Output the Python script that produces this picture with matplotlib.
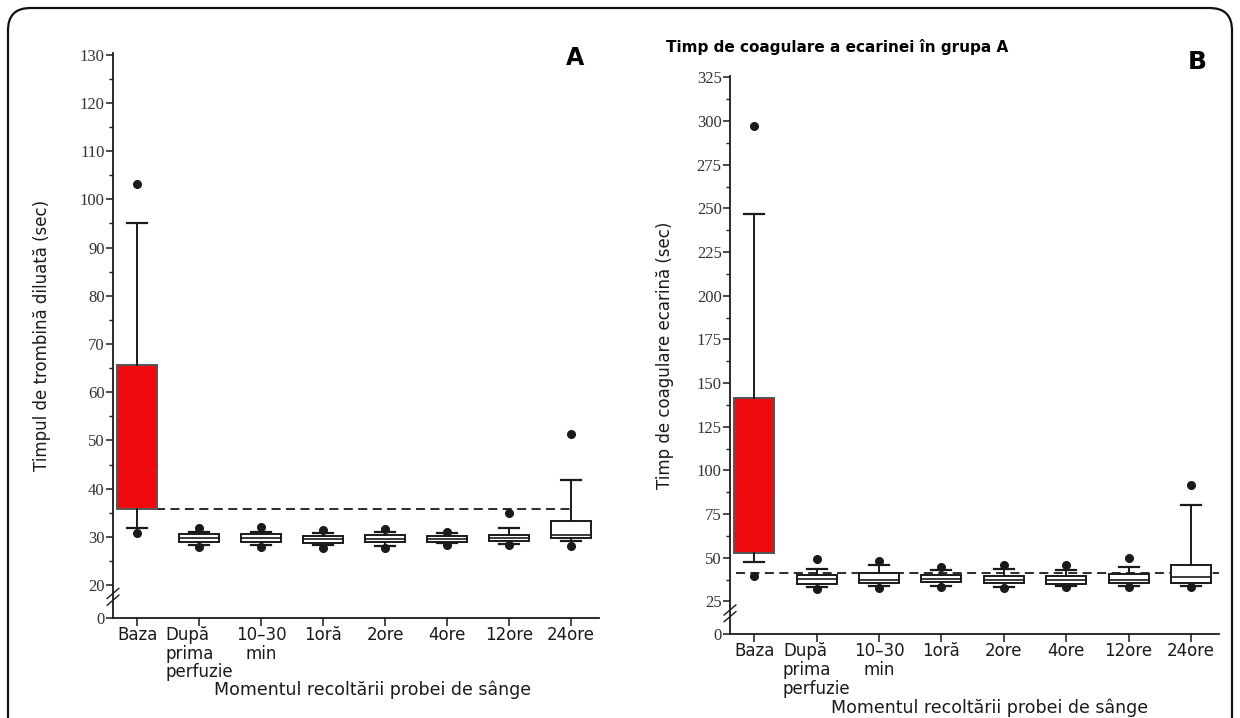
import matplotlib
matplotlib.use("Agg")
import matplotlib.pyplot as plt
from matplotlib.patches import FancyBboxPatch

# ---------------- data ----------------
categories = ["Baza", "După\nprima\nperfuzie", "10–30\nmin", "1oră", "2ore", "4ore", "12ore", "24ore"]

# Panel A - diluted thrombin time (sec)
a_q1 = [35.7, 29.0, 29.0, 28.8, 28.9, 29.0, 29.2, 29.7]
a_med = [45.0, 29.8, 29.7, 29.5, 29.6, 29.5, 29.8, 30.4]
a_q3 = [65.7, 30.5, 30.6, 30.2, 30.4, 30.2, 30.4, 33.3]
a_whislo = [31.9, 28.4, 28.4, 28.3, 28.2, 28.7, 28.6, 29.2]
a_whishi = [95.2, 31.0, 31.0, 30.9, 31.0, 30.7, 31.9, 41.7]
a_fliers = [[103.2, 30.8], [31.9, 27.9], [32.1, 27.9], [31.5, 27.6],
            [31.7, 27.7], [31.0, 28.4], [35.0, 28.4], [51.4, 28.1]]
a_ref = 35.7
a_ticks = [20, 30, 40, 50, 60, 70, 80, 90, 100, 110, 120, 130]

# Panel B - ecarin clotting time (sec)
b_q1 = [52.7, 34.9, 35.6, 36.2, 35.6, 34.9, 35.3, 35.3]
b_med = [90.0, 37.8, 37.5, 38.1, 37.5, 37.5, 37.5, 38.7]
b_q3 = [141.4, 40.2, 41.0, 40.0, 39.6, 39.4, 40.6, 45.7]
b_whislo = [47.6, 33.3, 33.7, 34.1, 33.5, 33.8, 33.8, 33.8]
b_whishi = [246.7, 43.3, 46.1, 42.9, 43.4, 42.9, 44.7, 80.0]
b_fliers = [[297.1, 39.4], [49.1, 32.4], [48.2, 32.8], [44.7, 33.3],
            [46.1, 32.5], [45.7, 33.0], [50.1, 33.0], [91.4, 33.3]]
b_ref = 41.0
b_ticks = [25, 50, 75, 100, 125, 150, 175, 200, 225, 250, 275, 300, 325]

title_b = "Timp de coagulare a ecarinei în grupa A"
xlabel = "Momentul recoltării probei de sânge"
ylabel_a = "Timpul de trombină diluată (sec)"
ylabel_b = "Timp de coagulare ecarină (sec)"

# ---------------- figure ----------------
W, H = 1240, 718
fig = plt.figure(figsize=(W / 100, H / 100), dpi=100)
fig.patch.set_facecolor("white")

def fx(px):
    return px / W

def fy(py):
    return 1 - py / H

ink = "#1a1a1a"

def draw_panel(ax, q1, med, q3, wlo, whi, fl, ref, ticks, ybot, ytop, ref_x0, ref_x1,
               ylabel):
    stats = []
    for i in range(len(categories)):
        stats.append(dict(q1=q1[i], med=med[i], q3=q3[i], whislo=wlo[i], whishi=whi[i],
                          fliers=fl[i], label=categories[i]))
    pos = list(range(len(categories)))
    art = ax.bxp(stats, positions=pos, widths=0.64, patch_artist=True,
                 showfliers=True, capwidths=0.32,
                 boxprops=dict(facecolor="white", edgecolor=ink, linewidth=1.4),
                 whiskerprops=dict(color=ink, linewidth=1.4),
                 capprops=dict(color=ink, linewidth=1.6),
                 medianprops=dict(color=ink, linewidth=1.2),
                 flierprops=dict(marker="o", markerfacecolor=ink, markeredgecolor=ink,
                                 markersize=5.5, linestyle="none"))
    # baseline box in red
    art["boxes"][0].set_facecolor("#ee0a0f")
    art["boxes"][0].set_edgecolor("#555555")
    art["medians"][0].set_color("#ee0a0f")
    ax.hlines(ref, ref_x0, ref_x1, colors=ink, linestyles=(0, (5, 3)), linewidth=1.3,
              zorder=1)

    ax.set_ylim(ybot, ytop)
    ax.set_xlim(-0.39, 7.45)
    ax.set_yticks([ybot] + ticks)
    ax.set_yticklabels(["0"] + [str(t) for t in ticks], fontfamily="Liberation Serif",
                       fontsize=12, color="#333333")
    step = ticks[1] - ticks[0]
    ax.set_yticks([t + step / 2 for t in ticks[:-1]], minor=True)
    ax.tick_params(axis="y", which="major", direction="out", length=5, width=1.1,
                   color=ink, pad=1)
    ax.tick_params(axis="y", which="minor", direction="out", length=3, width=1.0, color=ink)
    ax.set_xticks(pos)
    ax.set_xticklabels(categories, fontsize=12, color=ink, linespacing=1.05, va="top")
    for lab in ax.get_xticklabels():
        if lab.get_text().startswith("D"):
            lab.set_multialignment("left")
        else:
            lab.set_multialignment("center")
    ax.tick_params(axis="x", direction="out", length=6, width=1.1, color=ink, pad=0)
    for s in ["top", "right"]:
        ax.spines[s].set_visible(False)
    for s in ["left", "bottom"]:
        ax.spines[s].set_color(ink)
        ax.spines[s].set_linewidth(1.3)
    ax.set_ylabel(ylabel, fontsize=12, color=ink)
    # axis break marks
    for dy in (0.0, 0.012):
        ax.plot([-0.012, 0.012], [0.022 + dy, 0.040 + dy], transform=ax.transAxes,
                color=ink, lw=1.0, clip_on=False)
    ax.set_facecolor("none")

# Panel A
axA = fig.add_axes([fx(113), fy(617.7), fx(599) - fx(113), fy(53.3) - fy(617.7)])
draw_panel(axA, a_q1, a_med, a_q3, a_whislo, a_whishi, a_fliers, a_ref, a_ticks,
           13.23, 130.3, 0.3, 7.0, ylabel_a)
axA.yaxis.set_label_coords(-0.128, 0.5)

# Panel B
axB = fig.add_axes([fx(730), fy(634), fx(1219) - fx(730), fy(75.7) - fy(634)])
draw_panel(axB, b_q1, b_med, b_q3, b_whislo, b_whishi, b_fliers, b_ref, b_ticks,
           6.35, 326, -0.3, 7.45, ylabel_b)
axB.yaxis.set_label_coords(-0.115, 0.5)

# x labels
fig.text(fx(373), fy(690), xlabel, ha="center", va="center", fontsize=12.5, color=ink)
fig.text(fx(990), fy(708), xlabel, ha="center", va="center", fontsize=12.5, color=ink)

# title and panel letters
fig.text(fx(666), fy(47), title_b, ha="left", va="center", fontsize=11, fontweight="bold",
         color="black")
fig.text(fx(575), fy(58), "A", ha="center", va="center", fontsize=17, fontweight="bold")
fig.text(fx(1197), fy(62), "B", ha="center", va="center", fontsize=18, fontweight="bold")

# rounded frame
frame = FancyBboxPatch((fx(8), -0.05), fx(1232) - fx(8), fy(8) + 0.05,
                       boxstyle="round,pad=0,rounding_size=0.018",
                       transform=fig.transFigure, facecolor="none", edgecolor="#111111",
                       linewidth=1.6, mutation_aspect=W / H)
fig.patches.append(frame)

fig.savefig("out.png", dpi=100)
